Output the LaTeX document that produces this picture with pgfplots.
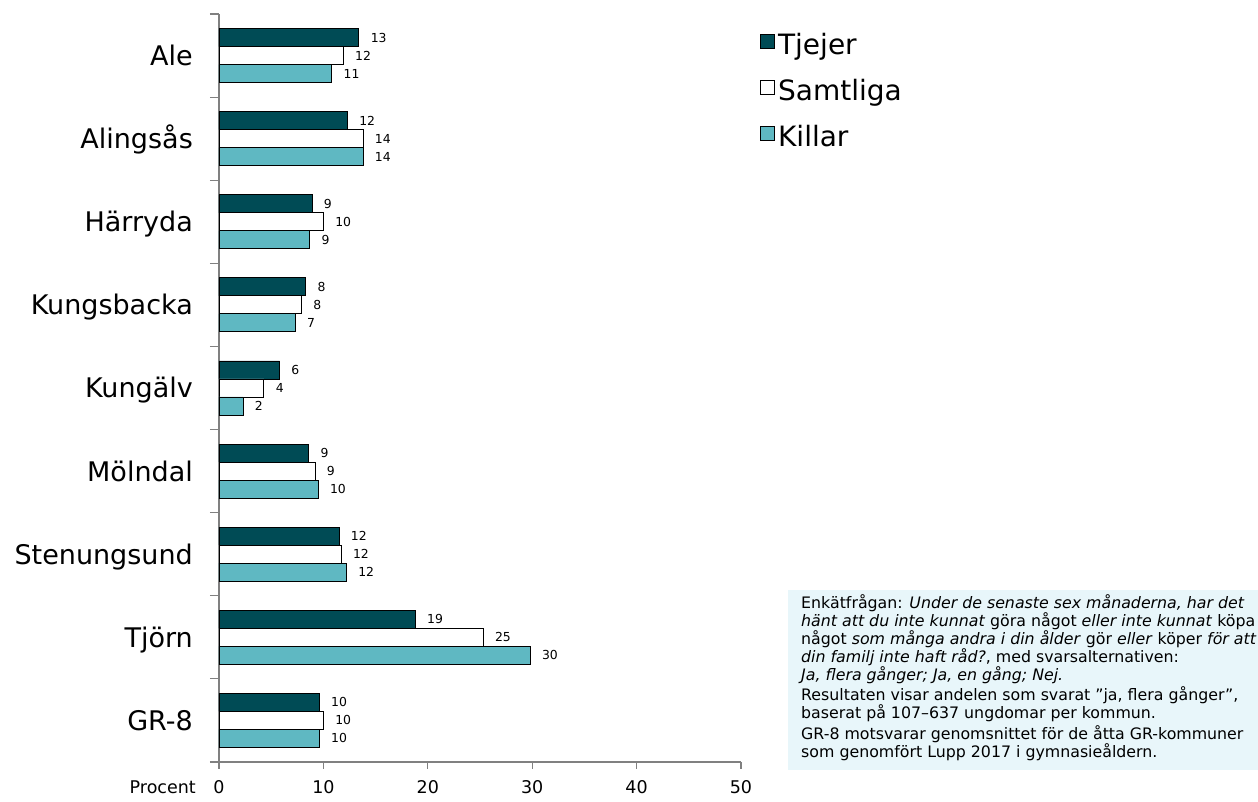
\documentclass[border=0pt]{standalone}
\usepackage{fontspec}
\setmainfont{DejaVu Sans}
\usepackage{pgfplots}
\pgfplotsset{compat=1.18}
\definecolor{tj}{RGB}{0,75,85}
\definecolor{ki}{RGB}{95,184,194}
\definecolor{axgray}{RGB}{128,128,128}
\definecolor{boxbg}{RGB}{232,246,250}
\begin{document}
\begin{tikzpicture}
\begin{axis}[
  name=ax, at={(0,0)}, anchor=south west,
  scale only axis, width=522pt, height=748pt,
  xbar, bar width=18pt,
  xmin=0, xmax=50, ymin=-0.5, ymax=8.5,
  axis x line*=bottom, axis y line*=left,
  axis line style={draw=axgray, line width=1.5pt, -},
  xtick={0,10,...,50},
  ytick={0,...,8},
  yticklabels={GR-8,Tjörn,Stenungsund,Mölndal,Kungälv,Kungsbacka,Härryda,Alingsås,Ale},
  minor ytick={-0.5,0.5,...,8.5},
  tick align=outside,
  major tick length=7pt, minor tick length=9pt,
  tick style={draw=axgray, line width=1.2pt},
  every major y tick/.append style={draw opacity=0},
  yticklabel style={font=\fontsize{27}{32}\selectfont, anchor=base east, inner sep=0pt, xshift=-19pt, yshift=-10pt},
  xticklabel style={font=\fontsize{17.5}{21}\selectfont, anchor=base, inner sep=0pt, yshift=-25pt},
  /pgf/number format/assume math mode=true,
  nodes near coords=\pgfplotspointmeta, point meta=explicit symbolic,
  every node near coord/.append style={font=\fontsize{12.4}{14}\selectfont, anchor=west, inner sep=0pt, xshift=11.5pt, text=black},
  legend style={at={(1.0364,0.974)}, anchor=north west, draw=none, fill=none,
    inner sep=0pt, font=\fontsize{28}{33}\selectfont, row sep=23pt,
    nodes={inner sep=0pt}},
  legend cell align=left,
  legend image code/.code={\draw[#1, line width=0.9pt] (0pt,-3.6pt) rectangle (14pt,10.4pt);},
]
\addplot[fill=tj, draw=black, line width=0.8pt, bar shift=18pt] coordinates {
 (13.4,8) [13] (12.3,7) [12] (8.9,6) [9] (8.3,5) [8] (5.8,4) [6]
 (8.6,3) [9] (11.5,2) [12] (18.8,1) [19] (9.6,0) [10]};
\addplot[fill=white, draw=black, line width=0.8pt, bar shift=0pt] coordinates {
 (11.9,8) [12] (13.8,7) [14] (10.0,6) [10] (7.9,5) [8] (4.3,4) [4]
 (9.2,3) [9] (11.7,2) [12] (25.3,1) [25] (10.0,0) [10]};
\addplot[fill=ki, draw=black, line width=0.8pt, bar shift=-18pt] coordinates {
 (10.8,8) [11] (13.8,7) [14] (8.7,6) [9] (7.3,5) [7] (2.3,4) [2]
 (9.5,3) [10] (12.2,2) [12] (29.8,1) [30] (9.6,0) [10]};
\legend{\hspace{3pt}Tjejer,\hspace{3pt}Samtliga,\hspace{3pt}Killar}
\end{axis}
\fill[boxbg] (569pt,-8pt) rectangle (1039pt,172pt);
\node[anchor=north west, align=left, inner sep=0pt, font=\fontsize{15.8}{18}\selectfont] at (582pt,168pt)
{Enkätfrågan: \textit{Under de senaste sex månaderna, har det}\\
\textit{hänt att du inte kunnat} göra något \textit{eller inte kunnat} köpa\\
något \textit{som många andra i din ålder} gör \textit{eller} köper \textit{för att}\\
\textit{din familj inte haft råd?}, med svarsalternativen:\\
\textit{Ja, flera gånger; Ja, en gång; Nej.}\\[2.5pt]
Resultaten visar andelen som svarat "ja, flera gånger",\\
baserat på 107–637 ungdomar per kommun.\\[2.5pt]
GR-8 motsvarar genomsnittet för de åtta GR-kommuner\\
som genomfört Lupp 2017 i gymnasieåldern.};
\node[anchor=base east, inner sep=0pt, font=\fontsize{17.5}{21}\selectfont] at (-23pt,-32pt) {Procent};
\pgfresetboundingbox
\path (-219pt,-40pt) rectangle (1039pt,762pt);
\end{tikzpicture}
\end{document}
